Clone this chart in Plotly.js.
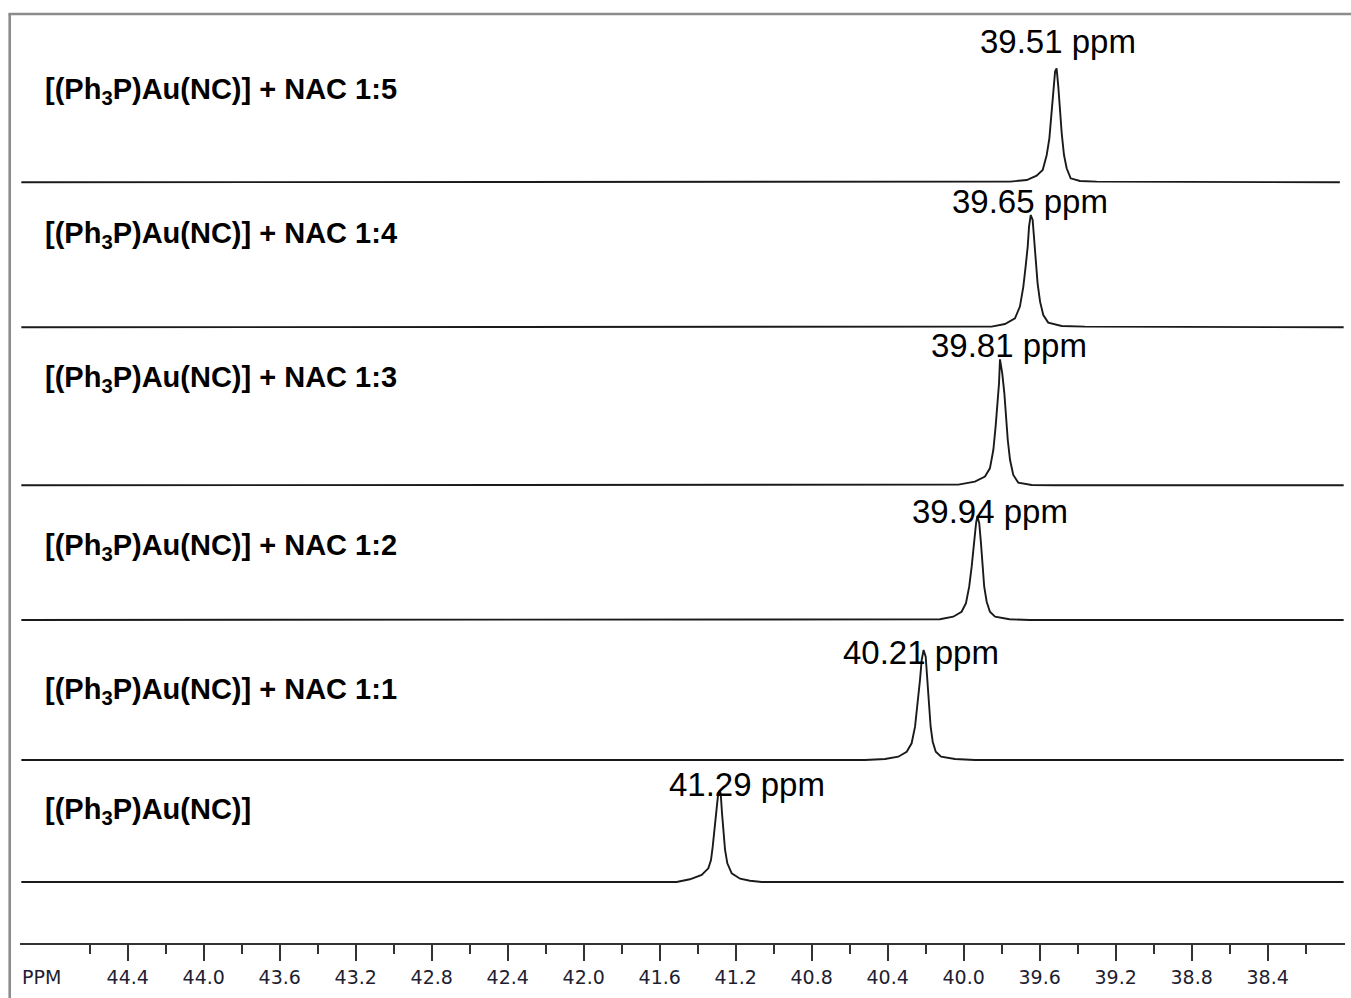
<!DOCTYPE html>
<html>
<head>
<meta charset="utf-8">
<script src="https://cdn.plot.ly/plotly-3.0.1.min.js"></script>
<style>
  html, body { margin: 0; padding: 0; background: #ffffff; }
  #chart { width: 1351px; height: 998px; }
</style>
</head>
<body>
<div id="chart"></div>
<script>
// ---- Data ----
const tickValues = [44.4, 44.0, 43.6, 43.2, 42.8, 42.4, 42.0, 41.6, 41.2, 40.8, 40.4, 40.0, 39.6, 39.2, 38.8, 38.4];
const tickLabels = ['44.4', '44.0', '43.6', '43.2', '42.8', '42.4', '42.0', '41.6', '41.2', '40.8', '40.4', '40.0', '39.6', '39.2', '38.8', '38.4'];
const minorTickValues = [44.6, 44.2, 43.8, 43.4, 43.0, 42.6, 42.2, 41.8, 41.4, 41.0, 40.6, 40.2, 39.8, 39.4, 39.0, 38.6, 38.2];

const sampleLabels = [
  '[(Ph<sub>3</sub>P)Au(NC)] + NAC 1:5',
  '[(Ph<sub>3</sub>P)Au(NC)] + NAC 1:4',
  '[(Ph<sub>3</sub>P)Au(NC)] + NAC 1:3',
  '[(Ph<sub>3</sub>P)Au(NC)] + NAC 1:2',
  '[(Ph<sub>3</sub>P)Au(NC)] + NAC 1:1',
  '[(Ph<sub>3</sub>P)Au(NC)]'
];
const peakLabels = ['39.51 ppm', '39.65 ppm', '39.81 ppm', '39.94 ppm', '40.21 ppm', '41.29 ppm'];

// spectrum 1:5 (peak 39.51)
const ppm15 = [44.96, 39.809, 39.756, 39.668, 39.616, 39.584, 39.563, 39.549, 39.537, 39.528, 39.519, 39.511, 39.502, 39.493, 39.484, 39.472, 39.458, 39.437, 39.388, 39.300, 38.02];
const int15 = [0, 0, 0.7, 2.3, 6.7, 12.3, 27.3, 44, 67.3, 90.7, 110.7, 114, 95.7, 70.7, 49, 27.3, 14, 4, 1.3, 0.7, 0];
// spectrum 1:4 (peak 39.65)
const ppm14 = [44.96, 39.940, 39.853, 39.783, 39.730, 39.704, 39.686, 39.674, 39.663, 39.656, 39.647, 39.637, 39.628, 39.620, 39.611, 39.598, 39.581, 39.555, 39.484, 39.362, 38.0];
const int14 = [0, 0, 0.7, 3.3, 9, 20.7, 40.7, 60.7, 80.7, 100.7, 112.3, 107.3, 84, 64, 44, 25.7, 12.3, 4.7, 1.3, 0.7, 0];
// spectrum 1:3 (peak 39.81)
const ppm13 = [44.96, 40.098, 40.028, 39.941, 39.888, 39.862, 39.844, 39.832, 39.821, 39.814, 39.809, 39.797, 39.786, 39.777, 39.768, 39.756, 39.739, 39.713, 39.642, 39.520, 38.0];
const int13 = [0, 0, 0.7, 3.7, 8.7, 17, 35.3, 58.6, 82, 102, 126, 112, 92, 68.6, 45.3, 25.3, 10.3, 2.7, 0.3, 0, 0];
// spectrum 1:2 (peak 39.94)
const ppm12 = [44.96, 40.230, 40.125, 40.055, 40.011, 39.988, 39.971, 39.958, 39.946, 39.935, 39.928, 39.918, 39.909, 39.900, 39.892, 39.879, 39.862, 39.835, 39.759, 39.651, 38.0];
const int12 = [0, 0, 0.7, 3.3, 8.3, 16.7, 33.3, 53.3, 76.7, 96.7, 104, 96.7, 76.7, 53.3, 33.3, 18.3, 8.3, 3.3, 0.7, 0, 0];
// spectrum 1:1 (peak 40.21)
const ppm11 = [44.96, 40.519, 40.414, 40.344, 40.300, 40.274, 40.256, 40.242, 40.230, 40.221, 40.211, 40.200, 40.192, 40.183, 40.174, 40.163, 40.147, 40.119, 40.046, 39.941, 38.0];
const int11 = [0, 0, 1, 3.3, 8.3, 16.7, 33.3, 56.7, 80, 100, 110, 103.3, 80, 56.7, 33.3, 18.3, 8.3, 3.3, 1, 0, 0];
// pure complex (peak 41.29)
const ppm10 = [44.96, 41.511, 41.441, 41.379, 41.344, 41.330, 41.321, 41.309, 41.300, 41.292, 41.285, 41.279, 41.272, 41.265, 41.256, 41.244, 41.221, 41.177, 41.125, 41.063, 38.0];
const int10 = [0, 0, 2.7, 7, 13.7, 22, 35.3, 55.3, 75.3, 88.7, 91, 88.7, 68.7, 48.7, 32, 18.7, 8.7, 3.3, 1.3, 0, 0];

// ---- Layout (positions / styles) ----
const spectra = [[ppm15, int15], [ppm14, int14], [ppm13, int13], [ppm12, int12], [ppm11, int11], [ppm10, int10]];
const baselineOffsets = [760.7, 615.7, 457.7, 323, 183, 61];   // stacking offset (y units = px above axis)
const labelY = [852, 708, 564, 396, 252, 132];                  // sample label centres
const peakLabelX = [39.504, 39.651, 39.762, 39.862, 40.225, 41.141];
const peakLabelY = [902, 742, 598, 432, 291, 159];

const W = 1351, H = 998, ML = 20, MR = 6, MT = 14, MB = 55;
const plotW = W - ML - MR, plotH = H - MT - MB;
const pxX = px => (px - ML) / plotW;
const pxY = py => (H - MB - py) / plotH;

const traces = spectra.map((s, i) => ({
  type: 'scatter', mode: 'lines',
  x: s[0],
  y: s[1].map(v => v + baselineOffsets[i]),
  line: { color: '#1a1a1a', width: 1.9 },
  hoverinfo: 'skip'
}));

const annotations = [];
sampleLabels.forEach((t, i) => {
  annotations.push({
    xref: 'paper', yref: 'y', x: pxX(43), y: labelY[i],
    xanchor: 'left', yanchor: 'middle', showarrow: false, text: '<b>' + t + '</b>',
    font: { family: '"Liberation Sans", Arial, sans-serif', size: 29, color: '#000000' }
  });
});
peakLabels.forEach((t, i) => {
  annotations.push({
    xref: 'x', yref: 'y', x: peakLabelX[i], y: peakLabelY[i],
    xanchor: 'center', yanchor: 'middle', showarrow: false, text: t,
    font: { family: '"Liberation Sans", Arial, sans-serif', size: 33, color: '#000000' }
  });
});
annotations.push({
  xref: 'paper', yref: 'paper', x: pxX(20), y: pxY(977),
  xanchor: 'left', yanchor: 'middle', showarrow: false, text: 'PPM',
  font: { family: '"DejaVu Sans", Verdana, sans-serif', size: 19, color: '#1e1e32' }
});

const layout = {
  width: W, height: H,
  margin: { l: ML, r: MR, t: MT, b: MB, pad: 0 },
  paper_bgcolor: '#ffffff', plot_bgcolor: '#ffffff',
  showlegend: false,
  xaxis: {
    range: [44.967, 37.993],
    showgrid: false, zeroline: false,
    showline: true, linecolor: '#333333', linewidth: 1.8,
    ticks: 'outside', ticklen: 16, tickwidth: 1.8, tickcolor: '#333333',
    tickmode: 'array', tickvals: tickValues, ticktext: tickLabels,
    tickfont: { family: '"DejaVu Sans", Verdana, sans-serif', size: 19, color: '#1e1e32' },
    minor: { tickmode: 'array', tickvals: minorTickValues, ticks: 'outside', ticklen: 9, tickwidth: 1.8, tickcolor: '#333333', showgrid: false },
    fixedrange: true
  },
  yaxis: { range: [0, plotH], visible: false, fixedrange: true },
  annotations: annotations,
  shapes: [
    { type: 'line', xref: 'paper', yref: 'paper', x0: pxX(9.7), x1: pxX(9.7), y0: 1, y1: pxY(1000), line: { color: '#8c8c8c', width: 2.6 } },
    { type: 'line', xref: 'paper', yref: 'paper', x0: pxX(8.4), x1: pxX(1352), y0: 1, y1: 1, line: { color: '#8c8c8c', width: 2.6 } }
  ]
};

Plotly.newPlot('chart', traces, layout, { staticPlot: true, displayModeBar: false });
</script>
</body>
</html>
